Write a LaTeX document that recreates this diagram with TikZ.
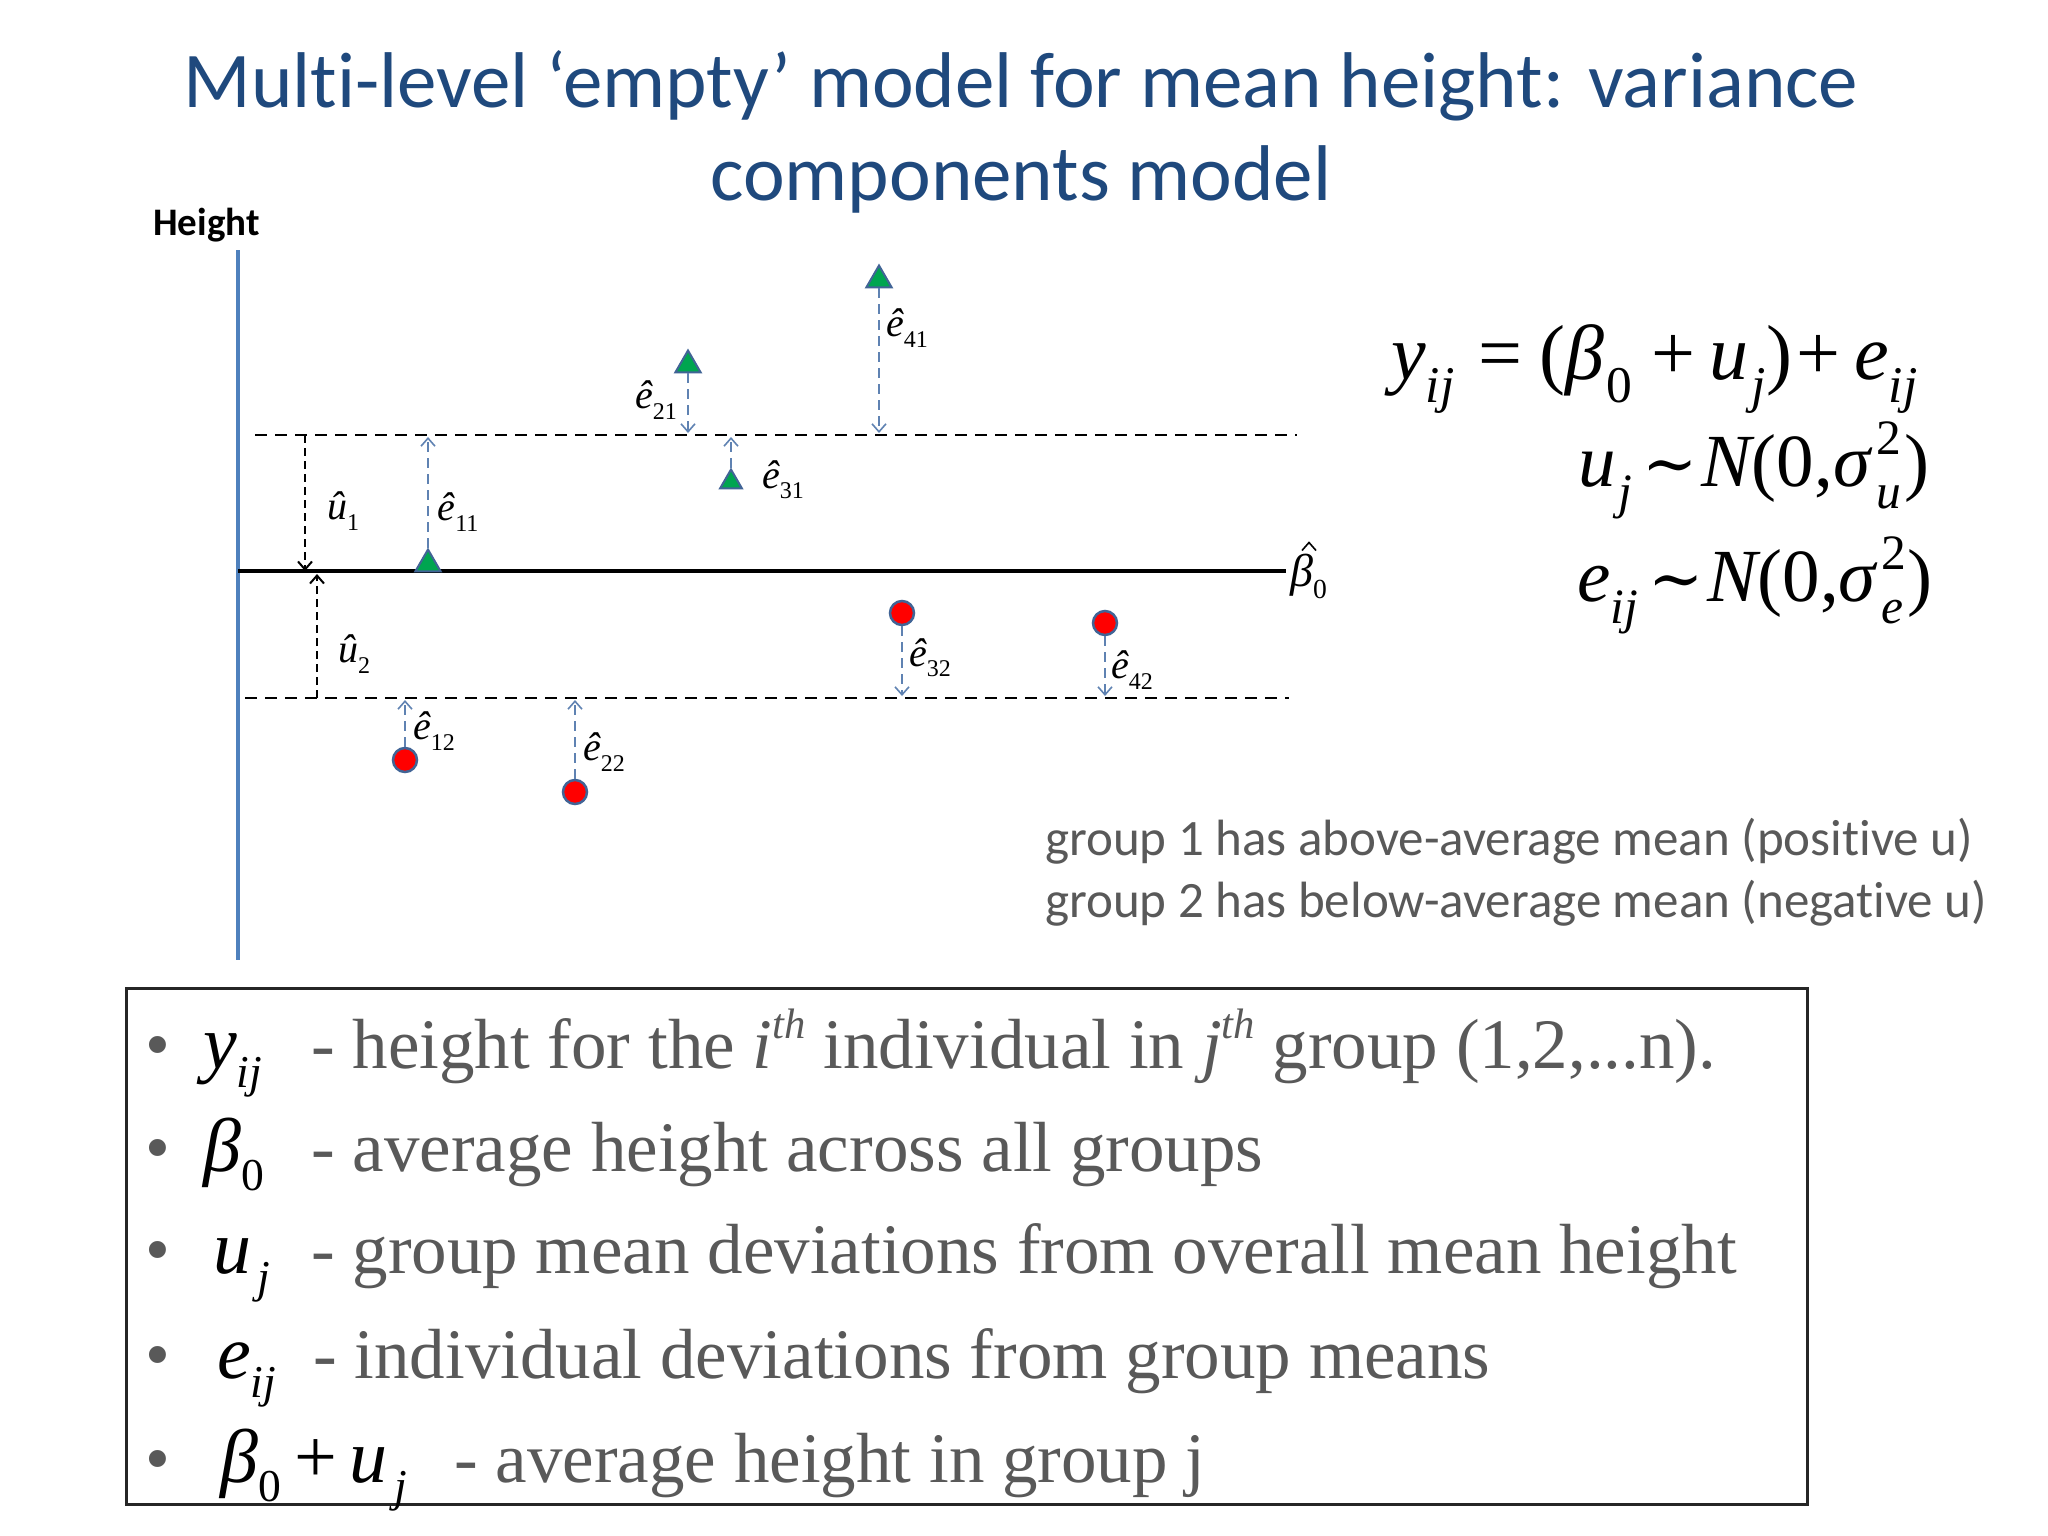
\documentclass[tikz,border=0pt]{standalone}
\usepackage{fontspec}
\setmainfont{Liberation Serif}
\newfontfamily\calibri[Ligatures=NoCommon]{Carlito}
\newfontfamily\dvserif{DejaVu Serif}
\usetikzlibrary{shapes.geometric,arrows.meta}
\definecolor{titleblue}{RGB}{31,73,125}
\definecolor{axisblue}{RGB}{79,129,189}
\definecolor{arrblue}{RGB}{95,130,178}
\definecolor{txtgray}{RGB}{89,89,89}
\definecolor{ptgreen}{RGB}{0,165,80}
\definecolor{ptedge}{RGB}{65,100,150}
\definecolor{ptred}{RGB}{255,0,0}
\makeatletter
\newcommand\smsub[1]{\raisebox{-0.26em}{\fontsize{\fpeval{0.6*\f@size}}{\fpeval{0.6*\f@size}}\selectfont #1}}
\newcommand\smsup[1]{\raisebox{0.42em}{\fontsize{\fpeval{0.6*\f@size}}{\fpeval{0.6*\f@size}}\selectfont #1}}
\newcommand\eqsub[1]{\raisebox{-0.3em}{\fontsize{\fpeval{0.66*\f@size}}{\fpeval{0.66*\f@size}}\selectfont #1}}
\newcommand\eqsup[1]{\raisebox{0.42em}{\fontsize{\fpeval{0.66*\f@size}}{\fpeval{0.66*\f@size}}\selectfont #1}}
\makeatother
\newcommand\eqsubsup[2]{\rlap{\eqsup{#1}}\eqsub{#2}}
\newcommand\tildeop{{\dvserif\fontsize{66}{66}\selectfont ∼}}
\tikzset{
  tri/.style={regular polygon, regular polygon sides=3, minimum size=29pt, inner sep=0pt,
    fill=ptgreen, draw=ptedge, line width=2pt},
  dot/.style={circle, minimum size=24pt, inner sep=0pt, fill=ptred, draw=ptedge, line width=2.5pt},
  earrow/.style={draw=arrblue, line width=1.6pt, dash pattern=on 10pt off 6pt,
    -{Straight Barb[length=8pt,width=14pt,line width=1.6pt]}},
  uarrow/.style={draw=black, line width=2pt, dash pattern=on 8pt off 5pt,
    -{Straight Barb[length=8pt,width=14pt,line width=2pt]}},
  hdash/.style={draw=black, line width=2.5pt, dash pattern=on 12pt off 8pt},
  lab/.style={font=\fontsize{40}{40}\selectfont, inner sep=0pt},
  bul/.style={font=\fontsize{71}{71}\selectfont, text=txtgray, anchor=base west, inner sep=0pt},
  bmath/.style={font=\fontsize{76}{76}\selectfont, text=black, anchor=base west, inner sep=0pt},
  btext/.style={font=\fontsize{71}{71}\selectfont, text=txtgray, anchor=base west, inner sep=0pt},
  eqn/.style={font=\fontsize{78}{78}\selectfont, text=black, inner sep=0pt},
}
\begin{document}
\begin{tikzpicture}[x=1pt,y=-1pt]
\useasboundingbox[fill=white] (0,0) rectangle (2048,1536);
% title
\node[font=\calibri\fontsize{79}{95}\selectfont, text=titleblue, anchor=base] (title1) at (1021,108) {Multi-level ‘empty’ model for mean height: variance};
\node[font=\calibri\fontsize{79}{95}\selectfont, text=titleblue, anchor=base] (title2) at (1021,200) {components model};
\node[font=\calibri\bfseries\fontsize{39}{39}\selectfont, anchor=base west, inner sep=0pt] (hlab) at (153,235) {Height};
% axis and lines
\coordinate (axTop) at (238,250);
\coordinate (axBot) at (238,960);
\draw[draw=axisblue, line width=4pt] (axTop) -- (axBot);
\coordinate (b0L) at (238,571);
\coordinate (b0R) at (1286,571);
\draw[line width=3.5pt] (b0L) -- (b0R);
\node[lab, font=\fontsize{46}{46}\selectfont, anchor=west] (b0) at (1290,576) {\itshape β\smsub{\upshape 0}};
\draw[line width=1.6pt] ([shift={(12,-3)}]b0.north west) -- ([shift={(19,-11)}]b0.north west) -- ([shift={(26,-3)}]b0.north west);
\coordinate (g1L) at (255,435);
\coordinate (g1R) at (1297,435);
\draw[hdash] (g1L) -- (g1R);
\coordinate (g2L) at (245,698);
\coordinate (g2R) at (1289,698);
\draw[hdash] (g2L) -- (g2R);
% u arrows
\coordinate (u1s) at (305,435);
\coordinate (u1e) at (305,571);
\draw[uarrow] (u1s) -- (u1e);
\coordinate (u2s) at (317,698);
\coordinate (u2e) at (317,574);
\draw[uarrow] (u2s) -- (u2e);
\node[lab] (lu1) at (343,511) {\itshape û\smsub{\upshape 1}};
\node[lab] (lu2) at (354,654) {\itshape û\smsub{\upshape 2}};
% points
\node[tri] (t11) at (428,564) {};
\node[tri] (t21) at (688,365) {};
\node[tri, minimum size=25pt] (t31) at (731,482) {};
\node[tri] (t41) at (879,280) {};
\node[dot] (c12) at (405,760) {};
\node[dot] (c22) at (575,792) {};
\node[dot] (c32) at (902,613) {};
\node[dot] (c42) at (1105,623) {};
\coordinate (m11) at (428,437);
\coordinate (m21) at (688,433);
\coordinate (m31) at (731,437);
\coordinate (m41) at (879,433);
\coordinate (m12) at (405,700);
\coordinate (m22) at (575,700);
\coordinate (m32) at (902,696);
\coordinate (m42) at (1105,696);
\draw[earrow] (t11) -- (m11);
\draw[earrow] (t21) -- (m21);
\draw[earrow] (t31) -- (m31);
\draw[earrow] (t41) -- (m41);
\draw[earrow] (c12) -- (m12);
\draw[earrow] (c22) -- (m22);
\draw[earrow] (c32) -- (m32);
\draw[earrow] (c42) -- (m42);
\node[lab] (l11) at (458,512) {\itshape ê\smsub{\upshape 11}};
\node[lab] (l21) at (656,400) {\itshape ê\smsub{\upshape 21}};
\node[lab] (l31) at (783,480) {\itshape ê\smsub{\upshape 31}};
\node[lab] (l41) at (907,328) {\itshape ê\smsub{\upshape 41}};
\node[lab] (l12) at (434,731) {\itshape ê\smsub{\upshape 12}};
\node[lab] (l22) at (604,752) {\itshape ê\smsub{\upshape 22}};
\node[lab] (l32) at (930,658) {\itshape ê\smsub{\upshape 32}};
\node[lab] (l42) at (1132,670) {\itshape ê\smsub{\upshape 42}};
% equations
\node[eqn, anchor=base west] (eq1) at (1391,379) {\itshape y\eqsub{ij}\hspace{24pt}\upshape =\hspace{17pt}(\itshape β\hspace{2pt}\eqsub{\upshape 0}\hspace{20pt}\upshape +\hspace{14pt}\itshape u\hspace{3pt}\eqsub{j}\upshape)\hspace{4pt}+\hspace{14pt}\itshape e\eqsub{ij}};
\node[eqn, font=\fontsize{75}{75}\selectfont, anchor=base east] (eq2) at (1930,486) {\itshape u\hspace{3pt}\eqsub{j}\hspace{10pt}\upshape\tildeop\hspace{4pt}\itshape N\upshape(0,\itshape σ\hspace{6pt}\eqsubsup{\upshape 2}{u}\hspace{4pt}\upshape)};
\node[eqn, font=\fontsize{75}{75}\selectfont, anchor=base east] (eq3) at (1933,601) {\itshape e\eqsub{ij}\hspace{10pt}\upshape\tildeop\hspace{4pt}\itshape N\upshape(0,\itshape σ\hspace{6pt}\eqsubsup{\upshape 2}{e}\hspace{4pt}\upshape)};
% group notes
\node[font=\calibri\fontsize{51}{51}\selectfont, text=txtgray, anchor=base west, inner sep=0pt] (g1) at (1045,855) {group 1 has above-average mean (positive u)};
\node[font=\calibri\fontsize{51}{51}\selectfont, text=txtgray, anchor=base west, inner sep=0pt] (g2) at (1045,917) {group 2 has below-average mean (negative u)};
% legend box
\node[draw=black!85, line width=2.5pt, minimum width=1681pt, minimum height=516pt, anchor=north west, inner sep=0pt] (box) at (125,987) {};
\node[bul] (k1) at (145,1068) {•};
\node[bmath] (s1) at (203,1068) {\itshape y\smsub{ij}};
\node[btext] (d1) at (311,1068) {- height for the \textit{i}\smsup{\itshape th} individual in \textit{j}\smsup{\itshape th} group (1,2,...n).};
\node[bul] (k2) at (145,1171) {•};
\node[bmath] (s2) at (203,1171) {\itshape β\smsub{\upshape 0}};
\node[btext] (d2) at (311,1171) {- average height across all groups};
\node[bul] (k3) at (145,1273) {•};
\node[bmath] (s3) at (213,1273) {\itshape u\hspace{6pt}\smsub{j}};
\node[btext] (d3) at (311,1273) {- group mean deviations from overall mean height};
\node[bul] (k4) at (145,1378) {•};
\node[bmath] (s4) at (217,1378) {\itshape e\smsub{ij}};
\node[btext] (d4) at (313,1378) {- individual deviations from group means};
\node[bul] (k5) at (145,1482) {•};
\node[bmath] (s5) at (220,1482) {\itshape β\smsub{\upshape 0}\hspace{14pt}\upshape +\hspace{12pt}\itshape u\hspace{7pt}\smsub{j}};
\node[btext] (d5) at (454,1482) {- average height in group j};
\end{tikzpicture}
\end{document}
